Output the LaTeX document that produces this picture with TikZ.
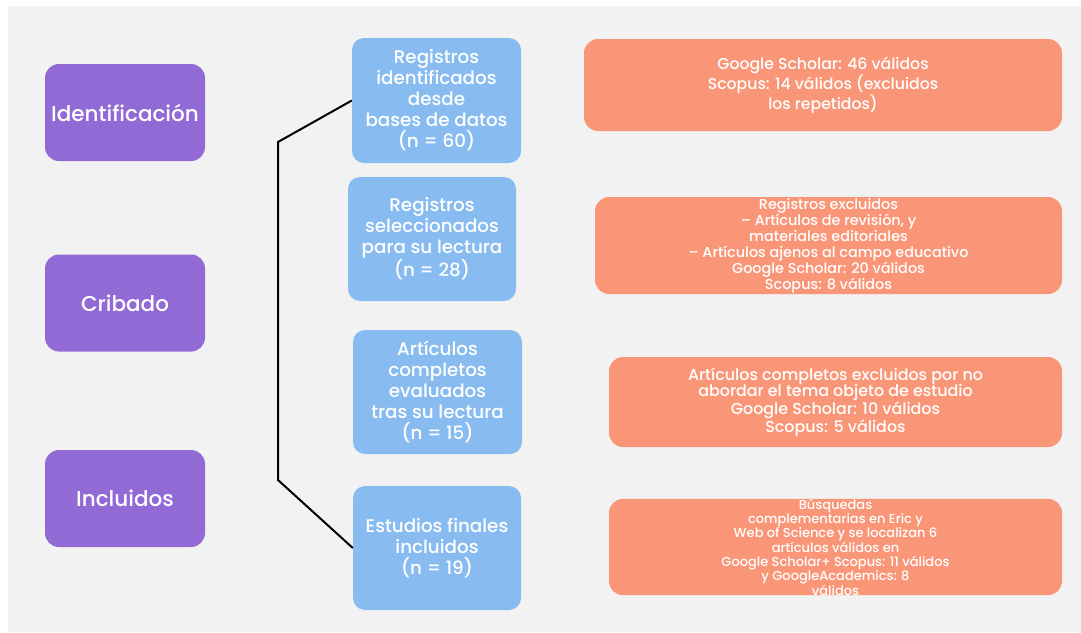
\documentclass[tikz,border=0pt]{standalone}
\usepackage{fontspec}
\setmainfont{Poppins}[UprightFont=* Medium]
\definecolor{colfase}{RGB}{145,106,214}
\definecolor{colregistro}{RGB}{136,188,240}
\definecolor{coldetalle}{RGB}{250,150,120}
\definecolor{colfondo}{RGB}{242,242,242}
\begin{document}
\begin{tikzpicture}[x=1pt,y=-1pt,
    fase/.style={fill=colfase,rounded corners=14pt,text=white,inner sep=0pt,
      minimum width=160pt,minimum height=97pt,font=\fontsize{21.5}{24}\selectfont},
    registro/.style={fill=colregistro,rounded corners=12pt,text=white,inner sep=0pt,align=center,
      minimum width=169pt,minimum height=124pt,font=\fontsize{18.3}{21}\selectfont},
    detalle/.style={fill=coldetalle,rounded corners=14pt,text=white,inner sep=0pt,align=center}]
    \useasboundingbox (0,0) rectangle (1081,632);
    \fill[white] (0,0) rectangle (1081,632);
    \fill[colfondo] (8,6) rectangle (1081,632);

    % fases
    \path (125,112.5) node [fase](ident){Identificación}
          (125,303) node [fase](crib){Cribado}
          (125,498.5) node [fase](incl){Incluidos};

    % registros
    \path (436.5,100.5) node [registro,minimum height=125pt](reg){Registros\\identificados\\desde\\bases de datos\\(n = 60)}
          (432,239) node [registro,minimum width=168pt](sel){Registros\\seleccionados\\para su lectura\\(n = 28)}
          (437.5,392) node [registro](art){Artículos\\completos\\evaluados\\tras su lectura\\(n = 15)}
          (437,548) node [registro,minimum width=168pt](est){Estudios finales\\incluidos\\(n = 19)};

    % detalles
    \path (823,85) node [detalle,minimum width=478pt,minimum height=92pt,font=\fontsize{15.7}{17.5}\selectfont](bases){Google Scholar: 46 válidos\\Scopus: 14 válidos (excluidos\\los repetidos)}
          (828.5,245.5) node [detalle,minimum width=467pt,minimum height=97pt,font=\fontsize{14.4}{16}\selectfont](excl){Registros excluidos\\– Artículos de revisión, y\\materiales editoriales\\– Artículos ajenos al campo educativo\\Google Scholar: 20 válidos\\Scopus: 8 válidos}
          (835.5,402) node [detalle,minimum width=453pt,minimum height=90pt,font=\fontsize{15.9}{16.5}\selectfont](noabord){Artículos completos excluidos por no\\abordar el tema objeto de estudio\\Google Scholar: 10 válidos\\Scopus: 5 válidos}
          (835.5,547) node [detalle,minimum width=453pt,minimum height=96pt,font=\fontsize{13}{14.3}\selectfont](busq){Búsquedas\\complementarias en Eric y\\Web of Science y se localizan 6\\artículos válidos en\\Google Scholar+ Scopus: 11 válidos\\y GoogleAcademics: 8\\válidos};

    \coordinate (arriba) at (278,142);
    \coordinate (abajo) at (278,480);
    \draw[line width=2pt] (reg.west) -- (arriba) -- (abajo) -- (est.west);

  \end{tikzpicture}
\end{document}
